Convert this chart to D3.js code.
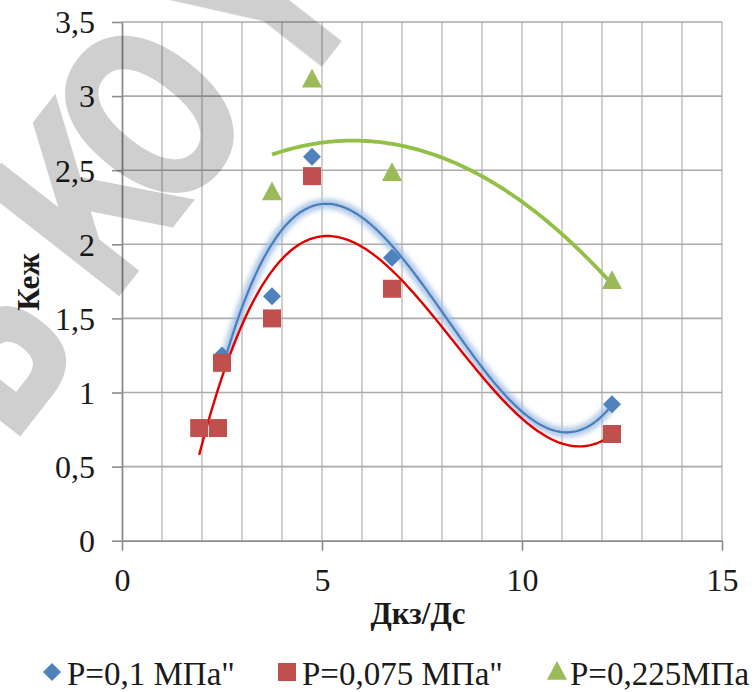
<!DOCTYPE html>
<html>
<head>
<meta charset="utf-8">
<script src="https://cdn.jsdelivr.net/npm/d3@7/dist/d3.min.js"></script>
<style>
  body { margin: 0; background: #fff; }
  svg { display: block; }
</style>
</head>
<body>
<svg id="chart" width="755" height="692"></svg>
<script>
// Measured points: Дкз/Дс vs Кеж for three pressures
const xP01 = [2.5, 3.75, 4.75, 6.75, 12.25];
const kP01 = [1.25, 1.65, 2.59, 1.91, 0.92];
const xP0075 = [1.93, 2.4, 2.5, 3.75, 4.75, 6.75, 12.25];
const kP0075 = [0.76, 0.76, 1.20, 1.50, 2.46, 1.70, 0.72];
const xP0225 = [3.75, 4.75, 6.75, 12.25];
const kP0225 = [2.35, 3.11, 2.48, 1.75];
const seriesNames = ['P=0,1 МПа"', 'P=0,075 МПа"', 'P=0,225МПа'];
const trendOrders = [3, 3, 2];   // polynomial trendline degree per series
const xTicks = [0, 5, 10, 15];
const xTickLabels = ['0', '5', '10', '15'];
const yTicks = [0, 0.5, 1, 1.5, 2, 2.5, 3, 3.5];
const yTickLabels = ['0', '0,5', '1', '1,5', '2', '2,5', '3', '3,5'];
const xTitle = 'Дкз/Дс';
const yTitle = 'Кеж';
const watermarkLetters = ['Ь', 'К', 'О', 'Ү'];

const SERIF = '"Liberation Serif", "Times New Roman", serif';
const INK = '#1a1a1a';

const series = [
  { name: seriesNames[0], xs: xP01, ys: kP01, order: trendOrders[0], color: '#4f81bd', line: '#4a7ebb', shape: 'diamond' },
  { name: seriesNames[1], xs: xP0075, ys: kP0075, order: trendOrders[1], color: '#c0504d', line: '#e00000', shape: 'square' },
  { name: seriesNames[2], xs: xP0225, ys: kP0225, order: trendOrders[2], color: '#9bbb59', line: '#92c047', shape: 'triangle' }
];

const svg = d3.select('#chart').attr('font-family', SERIF);
const x = d3.scaleLinear().domain([0, 15]).range([122, 722]);
const y = d3.scaleLinear().domain([0, 3.5]).range([540.7, 22]);

// Least-squares polynomial fit (normal equations + Gaussian elimination)
function polyFit(xs, ys, order) {
  const n = order + 1;
  const A = Array.from({ length: n }, () => new Array(n + 1).fill(0));
  xs.forEach((xv, i) => {
    for (let r = 0; r < n; r++) {
      for (let c = 0; c < n; c++) A[r][c] += Math.pow(xv, r + c);
      A[r][n] += ys[i] * Math.pow(xv, r);
    }
  });
  for (let p = 0; p < n; p++) {
    let m = p;
    for (let r = p + 1; r < n; r++) if (Math.abs(A[r][p]) > Math.abs(A[m][p])) m = r;
    [A[p], A[m]] = [A[m], A[p]];
    for (let r = p + 1; r < n; r++) {
      const f = A[r][p] / A[p][p];
      for (let c = p; c <= n; c++) A[r][c] -= f * A[p][c];
    }
  }
  const coef = new Array(n).fill(0);
  for (let r = n - 1; r >= 0; r--) {
    let s = A[r][n];
    for (let c = r + 1; c < n; c++) s -= A[r][c] * coef[c];
    coef[r] = s / A[r][r];
  }
  return coef;
}
const polyVal = (coef, xv) => coef.reduce((s, c, i) => s + c * Math.pow(xv, i), 0);

// soft glow for the blue trendline
const defs = svg.append('defs');
defs.append('filter').attr('id', 'glow').attr('x', '-10%').attr('y', '-10%').attr('width', '120%').attr('height', '120%')
  .append('feGaussianBlur').attr('stdDeviation', 2.4);

// gridlines
const grid = svg.append('g');
grid.selectAll('line.v').data(d3.range(1, 16)).join('line')
  .attr('x1', d => x(d)).attr('x2', d => x(d))
  .attr('y1', y(0)).attr('y2', y(3.5))
  .attr('stroke', '#c3c3c3').attr('stroke-width', 1.6);
grid.selectAll('line.h').data(yTicks.slice(1)).join('line')
  .attr('x1', x(0)).attr('x2', x(15))
  .attr('y1', d => y(d)).attr('y2', d => y(d))
  .attr('stroke', '#ababab').attr('stroke-width', 1.6);

// axes
const xAxis = svg.append('g').attr('transform', `translate(0,${y(0)})`)
  .call(d3.axisBottom(x).tickValues(xTicks).tickFormat((d, i) => xTickLabels[i]).tickSize(10).tickSizeOuter(0).tickPadding(18));
const yAxis = svg.append('g').attr('transform', `translate(${x(0)},0)`)
  .call(d3.axisLeft(y).tickValues(yTicks).tickFormat((d, i) => yTickLabels[i]).tickSize(10).tickSizeOuter(0).tickPadding(17));
[xAxis, yAxis].forEach(a => {
  a.attr('font-family', SERIF);
  a.select('.domain').attr('stroke', '#8c8c8c').attr('stroke-width', 1.8);
  a.selectAll('.tick line').attr('stroke', '#8c8c8c').attr('stroke-width', 1.6);
  a.selectAll('.tick text').attr('font-family', SERIF).attr('font-size', 32).attr('fill', INK);
});
yAxis.selectAll('.tick text').attr('dy', '0.34em');

// axis titles
svg.append('text').attr('x', 418).attr('y', 624).attr('text-anchor', 'middle')
  .attr('font-family', SERIF).attr('font-size', 31).attr('font-weight', 'bold').attr('fill', INK).text(xTitle);
svg.append('text').attr('transform', 'translate(39,282) rotate(-90)').attr('text-anchor', 'middle')
  .attr('font-family', SERIF).attr('font-size', 31).attr('font-weight', 'bold').attr('fill', INK).text(yTitle);

// trendlines
const line = d3.line().x(d => x(d[0])).y(d => y(d[1]));
const trends = svg.append('g');
series.forEach(s => {
  const coef = polyFit(s.xs, s.ys, s.order);
  const [lo, hi] = d3.extent(s.xs);
  const pts = d3.range(lo, hi, 0.05).concat([hi]).map(v => [v, polyVal(coef, v)]);
  if (s.shape === 'diamond') {
    trends.append('path').datum(pts).attr('d', line).attr('fill', 'none')
      .attr('stroke', '#9dbbe2').attr('stroke-width', 10).attr('stroke-opacity', 0.8).attr('filter', 'url(#glow)');
    trends.append('path').datum(pts).attr('d', line).attr('fill', 'none')
      .attr('stroke', s.line).attr('stroke-width', 2.2);
  } else {
    trends.append('path').datum(pts).attr('d', line).attr('fill', 'none')
      .attr('stroke', s.line).attr('stroke-width', s.shape === 'triangle' ? 3.8 : 2.4);
  }
});

// markers
function symbolPath(shape) {
  if (shape === 'diamond') return d3.symbol(d3.symbolSquare, 162)();
  if (shape === 'square') return d3.symbol(d3.symbolSquare, 324)();
  return d3.symbol(d3.symbolTriangle, 175)();
}
function symbolTransform(shape, px, py) {
  if (shape === 'diamond') return `translate(${px},${py}) rotate(45)`;
  if (shape === 'triangle') return `translate(${px},${py + 1.5}) scale(1,1.08)`;
  return `translate(${px},${py})`;
}
const marks = svg.append('g');
series.forEach(s => {
  marks.append('g').selectAll('path').data(s.xs.map((v, i) => [v, s.ys[i]])).join('path')
    .attr('d', symbolPath(s.shape))
    .attr('transform', d => symbolTransform(s.shape, x(d[0]), y(d[1])))
    .attr('fill', s.color);
});

// legend
const legendPos = [[52, 67], [287, 302], [557, 570]];
const legend = svg.append('g');
series.forEach((s, i) => {
  legend.append('path').attr('d', symbolPath(s.shape))
    .attr('transform', symbolTransform(s.shape, legendPos[i][0], 672)).attr('fill', s.color);
  legend.append('text').attr('x', legendPos[i][1]).attr('y', 685)
    .attr('font-family', SERIF).attr('font-size', 33).attr('fill', INK).text(s.name);
});

// translucent watermark lettering
const wm = svg.append('g').attr('opacity', 0.19);
const wmCenters = [[-17, 344], [85, 200], [150, 115], [264, 1]];
watermarkLetters.forEach((ch, i) => {
  wm.append('text')
    .attr('transform', `translate(${wmCenters[i][0]},${wmCenters[i][1]}) rotate(-52) scale(0.72,1)`)
    .attr('x', 0).attr('y', 0.36 * 240)
    .attr('text-anchor', 'middle')
    .attr('font-family', '"DejaVu Sans", sans-serif').attr('font-size', 240).attr('font-weight', 'bold')
    .attr('fill', '#000').text(ch);
});
</script>
</body>
</html>
